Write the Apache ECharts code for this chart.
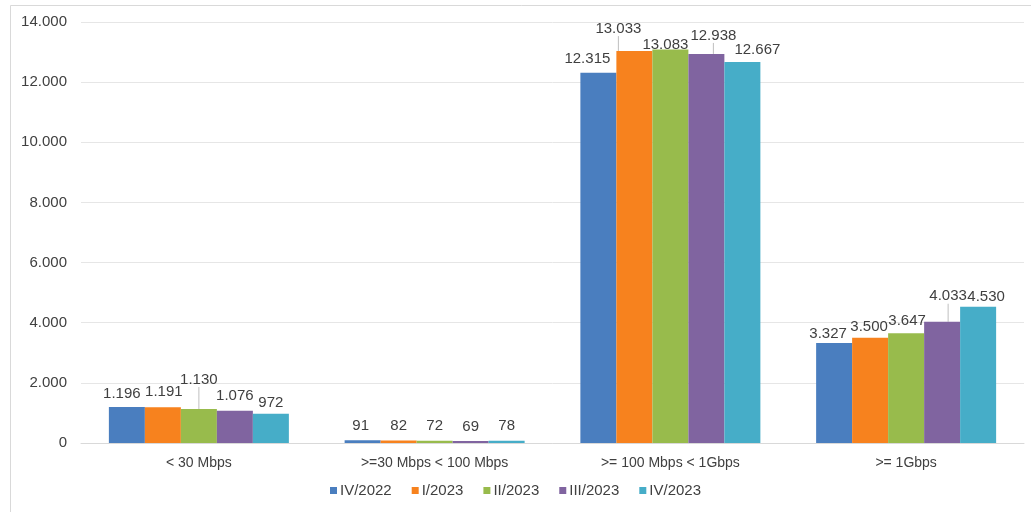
<!DOCTYPE html>
<html>
<head>
<meta charset="utf-8">
<script src="https://cdn.jsdelivr.net/npm/echarts@6/dist/echarts.min.js"></script>
<style>html,body{margin:0;padding:0;background:#fff;}#c{width:1031px;height:512px;}</style>
</head>
<body>
<div id="c"></div>
<script>
var categories = ['< 30 Mbps', '>=30 Mbps < 100 Mbps', '>= 100 Mbps < 1Gbps', '>= 1Gbps'];
var seriesNames = ['IV/2022', 'I/2023', 'II/2023', 'III/2023', 'IV/2023'];
var valuesIV2022 = [1196, 91, 12315, 3327];
var valuesI2023 = [1191, 82, 13033, 3500];
var valuesII2023 = [1130, 72, 13083, 3647];
var valuesIII2023 = [1076, 69, 12938, 4033];
var valuesIV2023 = [972, 78, 12667, 4530];
var yTicks = [0, 2000, 4000, 6000, 8000, 10000, 12000, 14000];

var seriesValues = [valuesIV2022, valuesI2023, valuesII2023, valuesIII2023, valuesIV2023];
var colors = ['#4a7ebf', '#f7821e', '#98bb4c', '#8064a0', '#46adc8'];

// label nudges (layout only): key "series-category" -> [dx, dy]
var labelNudge = {
  '0-0': [-5, -2], '1-0': [1, -4], '2-0': [0, -18], '3-0': [0, -3], '4-0': [0, 1],
  '0-1': [-2, -3], '1-1': [0, -3], '2-1': [0, -3], '3-1': [0, -3], '4-1': [0, -3],
  '0-2': [-11, -2], '1-2': [-16, -11], '2-2': [-5, 7], '3-2': [7, -7], '4-2': [15, -1],
  '0-3': [-6, 2], '1-3': [-1, 1], '2-3': [1, -1], '3-3': [6, -14], '4-3': [8, 2]
};
// labels that carry a leader line
var leaderLines = {'2-0': 1, '1-2': 1, '3-2': 1, '3-3': 1};

function fmt(v) {
  return String(v).replace(/\B(?=(\d{3})+(?!\d))/g, '.');
}

var chart = echarts.init(document.getElementById('c'), null, {renderer: 'canvas'});
var series = seriesNames.map(function (name, i) {
  return {
    name: name,
    type: 'bar',
    data: seriesValues[i].map(function (v, j) {
      return {value: v, labelLine: {show: !!leaderLines[i + '-' + j]}};
    }),
    barWidth: 36,
    barGap: '0%',
    itemStyle: {color: colors[i]},
    label: {
      show: true,
      position: 'top',
      distance: 4,
      color: '#404040',
      fontFamily: 'Liberation Sans, Arial, sans-serif',
      fontSize: 15,
      formatter: function (p) { return fmt(p.value); }
    },
    labelLine: {show: false, lineStyle: {color: '#bfbfbf', width: 1}},
    emphasis: {disabled: true}
  };
});

chart.setOption({
  animation: false,
  color: colors,
  graphic: [{
    type: 'rect',
    shape: {x: 10.5, y: 5.5, width: 1040, height: 520},
    style: {fill: 'none', stroke: '#d9d9d9', lineWidth: 1},
    silent: true
  }],
  grid: {left: 81, right: 7, top: 22, bottom: 69, containLabel: false},
  legend: {
    data: seriesNames,
    bottom: 9,
    left: 'center',
    icon: 'rect',
    itemWidth: 7,
    itemHeight: 7,
    itemGap: 20,
    textStyle: {color: '#404040', fontSize: 15, fontFamily: 'Liberation Sans, Arial, sans-serif', padding: [0, 0, 0, -2]}
  },
  xAxis: {
    type: 'category',
    data: categories,
    axisLine: {lineStyle: {color: '#d9d9d9'}},
    axisTick: {show: false},
    axisLabel: {color: '#404040', fontSize: 14, margin: 13, fontFamily: 'Liberation Sans, Arial, sans-serif'}
  },
  yAxis: {
    type: 'value',
    min: yTicks[0],
    max: yTicks[yTicks.length - 1],
    interval: yTicks[1] - yTicks[0],
    axisLine: {show: false},
    axisTick: {show: false},
    splitLine: {lineStyle: {color: '#e6e6e6'}},
    axisLabel: {color: '#404040', fontSize: 15, margin: 14, fontFamily: 'Liberation Sans, Arial, sans-serif',
      formatter: function (v) { return fmt(v); }}
  },
  labelLayout: function (p) {
    var n = labelNudge[p.seriesIndex + '-' + p.dataIndex] || [0, 0];
    return {dx: n[0], dy: n[1]};
  },
  series: series
});
</script>
</body>
</html>
